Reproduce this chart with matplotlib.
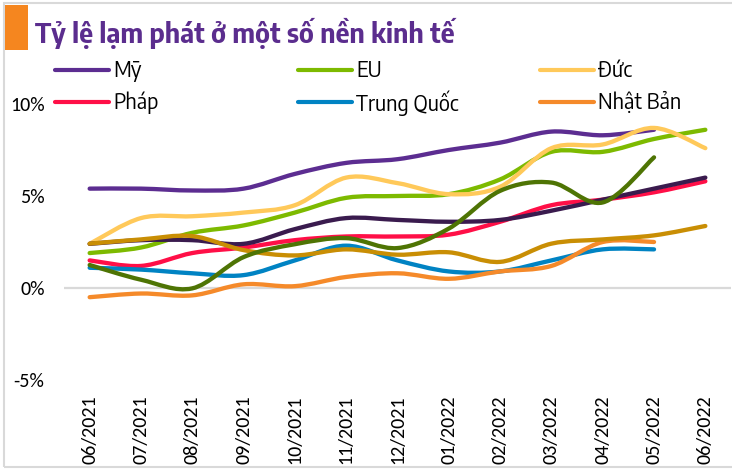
import numpy as np
import matplotlib
matplotlib.use("Agg")
import matplotlib.pyplot as plt
from matplotlib.path import Path
from matplotlib.patches import PathPatch, Rectangle
from matplotlib.lines import Line2D

months = ["06/2021", "07/2021", "08/2021", "09/2021", "10/2021", "11/2021", "12/2021",
          "01/2022", "02/2022", "03/2022", "04/2022", "05/2022", "06/2022"]

my = [5.4, 5.4, 5.3, 5.4, 6.2, 6.8, 7.0, 7.5, 7.9, 8.5, 8.3, 8.6]
eu = [1.9, 2.2, 3.0, 3.4, 4.1, 4.9, 5.0, 5.1, 5.9, 7.4, 7.4, 8.1, 8.6]
duc = [2.4, 3.8, 3.9, 4.1, 4.5, 6.0, 5.7, 5.1, 5.5, 7.6, 7.8, 8.7, 7.6]
phap = [1.5, 1.2, 1.9, 2.2, 2.6, 2.8, 2.8, 2.9, 3.6, 4.5, 4.8, 5.2, 5.8]
trung_quoc = [1.1, 1.0, 0.8, 0.7, 1.5, 2.3, 1.5, 0.9, 0.9, 1.5, 2.1, 2.1]
nhat_ban = [-0.5, -0.3, -0.4, 0.2, 0.1, 0.6, 0.8, 0.5, 0.9, 1.2, 2.5, 2.5]
# series drawn without a legend entry
han_quoc = [2.4, 2.6, 2.6, 2.4, 3.2, 3.8, 3.7, 3.6, 3.7, 4.2, 4.8, 5.4, 6.0]
viet_nam = [2.41, 2.64, 2.82, 2.06, 1.77, 2.10, 1.81, 1.94, 1.42, 2.41, 2.64, 2.86, 3.37]
thai_lan = [1.25, 0.45, -0.02, 1.68, 2.38, 2.71, 2.17, 3.23, 5.28, 5.73, 4.65, 7.10]

y_ticks = [-5, 0, 5, 10]

COLORS = {
    "my": "#5C2D91",
    "eu": "#7DBA00",
    "duc": "#FFC95A",
    "phap": "#FF0F47",
    "tq": "#0083C3",
    "nb": "#F58A2A",
    "hq": "#3A1B4E",
    "vn": "#C98E04",
    "tl": "#4E7404",
}
HEAD_FONT = ["Encode Sans Semi Condensed", "Roboto Condensed", "DejaVu Sans"]
TICK_FONT = ["Carlito", "DejaVu Sans"]


def smooth_path(values):
    # Excel style smoothed line: cubic bezier through every point
    pts = np.column_stack([np.arange(len(values)), np.asarray(values, dtype=float)])
    verts = [pts[0]]
    codes = [Path.MOVETO]
    n = len(pts)
    for i in range(n - 1):
        p0 = pts[i - 1] if i > 0 else pts[i]
        p1 = pts[i]
        p2 = pts[i + 1]
        p3 = pts[i + 2] if i + 2 < n else pts[i + 1]
        c1 = p1 + (p2 - p0) / 6.0
        c2 = p2 - (p3 - p1) / 6.0
        verts.extend([c1, c2, p2])
        codes.extend([Path.CURVE4] * 3)
    return Path(verts, codes)


def draw_series(ax, values, color):
    patch = PathPatch(smooth_path(values), facecolor="none", edgecolor=color,
                      linewidth=3.1, capstyle="round", joinstyle="round")
    ax.add_patch(patch)


W, H = 732, 470
fig = plt.figure(figsize=(W / 100, H / 100), dpi=100)
fig.patch.set_facecolor("white")

ax = fig.add_axes([64 / W, 1 - 380 / H, (731 - 64) / W, (380 - 104) / H])
ax.set_xlim(-0.5, len(months) - 0.5)
ax.set_ylim(-5, 10)
for spine in ax.spines.values():
    spine.set_visible(False)
ax.axhline(0, color="#D9D9D9", linewidth=1.6, zorder=0)

for values, key in [(my, "my"), (eu, "eu"), (duc, "duc"), (phap, "phap"),
                    (trung_quoc, "tq"), (nhat_ban, "nb"), (han_quoc, "hq"),
                    (viet_nam, "vn"), (thai_lan, "tl")]:
    draw_series(ax, values, COLORS[key])

ax.set_yticks(y_ticks)
ax.set_yticklabels([f"{v}%" for v in y_ticks], fontfamily=TICK_FONT, fontsize=14.5)
ax.set_xticks(range(len(months)))
ax.set_xticklabels(months, rotation=90, fontfamily=TICK_FONT, fontsize=14.5)
ax.tick_params(axis="y", length=0, pad=14)
ax.tick_params(axis="x", length=0, pad=11)

# frame and title bar
fig.add_artist(Rectangle((4 / W, 1 - 467 / H), (W + 10 - 4) / W, (467 - 3) / H,
                         transform=fig.transFigure, facecolor="none",
                         edgecolor="#D9D9D9", linewidth=1.5))
fig.add_artist(Rectangle((5 / W, 1 - 50 / H), 23 / W, 45 / H,
                         transform=fig.transFigure, facecolor="#F5861F",
                         edgecolor="none"))
fig.text(35 / W, 1 - 43 / H, "Tỷ lệ lạm phát ở một số nền kinh tế",
         fontfamily=HEAD_FONT, fontweight="bold",
         fontsize=19.4, color="#5B2D8E", va="baseline", ha="left")

legend_items = [
    ("Mỹ", "my", 55, 70), ("EU", "eu", 298, 70), ("Đức", "duc", 540, 70),
    ("Pháp", "phap", 55, 102), ("Trung Quốc", "tq", 298, 102), ("Nhật Bản", "nb", 540, 102),
]
for label, key, x0, y0 in legend_items:
    fig.add_artist(Line2D([x0 / W, (x0 + 54) / W], [1 - y0 / H, 1 - y0 / H],
                          transform=fig.transFigure, color=COLORS[key],
                          linewidth=3.0, solid_capstyle="round"))
    fig.text((x0 + 58) / W, 1 - (y0 + 1) / H, label,
             fontfamily=HEAD_FONT, fontsize=15.4,
             color="black", va="center", ha="left")

fig.savefig("out.png", dpi=100)
